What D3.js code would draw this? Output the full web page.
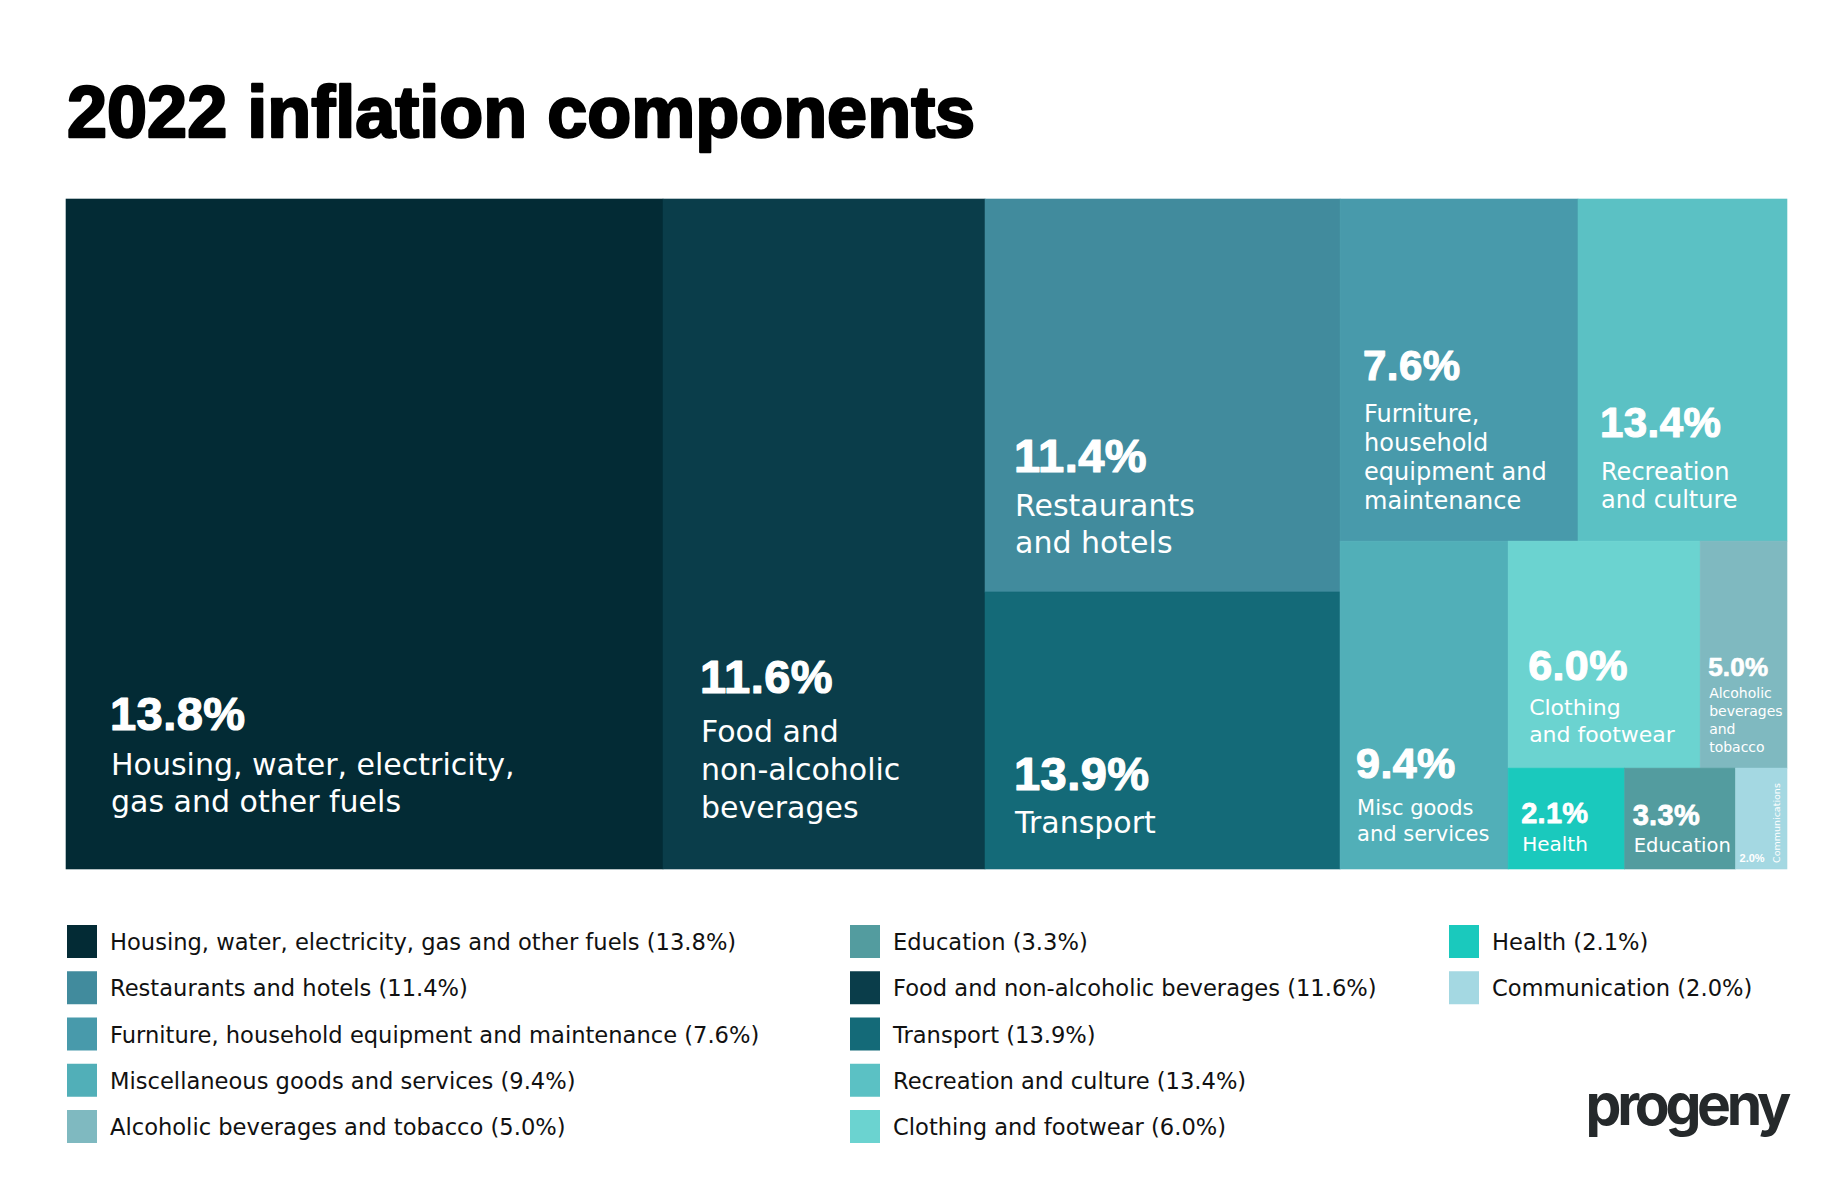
<!DOCTYPE html>
<html><head><meta charset="utf-8">
<script src="https://cdn.jsdelivr.net/npm/d3@7"></script>
<style>body{margin:0;background:#fff;} svg{display:block}</style>
</head><body><svg id="c" width="1847" height="1188"></svg>
<script>
// ---------- data ----------
const categories = ["Housing","Food","Restaurants","Transport","Furniture","Recreation","Misc","Clothing","Alcohol","Health","Education","Communication"];
const legendNames = ["Housing, water, electricity, gas and other fuels","Food and non-alcoholic beverages","Restaurants and hotels","Transport","Furniture, household equipment and maintenance","Recreation and culture","Miscellaneous goods and services","Clothing and footwear","Alcoholic beverages and tobacco","Health","Education","Communication"];
const cellLines = [["Housing, water, electricity,","gas and other fuels"],["Food and","non-alcoholic","beverages"],["Restaurants","and hotels"],["Transport"],["Furniture,","household","equipment and","maintenance"],["Recreation","and culture"],["Misc goods","and services"],["Clothing","and footwear"],["Alcoholic","beverages","and","tobacco"],["Health"],["Education"],["Communications"]];
const inflation = [13.8,11.6,11.4,13.9,7.6,13.4,9.4,6.0,5.0,2.1,3.3,2.0];
// basket weight (area of each tile, % of total)
const weights = [34.69,18.71,12.10,8.53,7.06,6.20,4.78,3.78,1.71,1.02,0.97,0.45];
const colors = ["#032b35","#0a3d4a","#418b9d","#146a78","#489aab","#5bc1c4","#51afb8","#6bd3d0","#7fb9c0","#1ac9bd","#539c9f","#a4d8e2"];
const groups = ["Housing","Food",["Restaurants","Transport"],[["Furniture","Recreation"],["Misc",[["Clothing","Alcohol"],["Health","Education","Communication"]]]]];
const legendColumns = [["Housing","Restaurants","Furniture","Misc","Alcohol"],["Education","Food","Transport","Recreation","Clothing"],["Health","Communication"]];
const titleText = "2022 inflation components";
const brandText = "progeny";

// ---------- label styles (layout only) ----------
const labelStyle = {
  Housing:{padL:45,padB:57,pct:47,lab:30,lh:37,gap:45},
  Food:{padL:38,padB:51,pct:47,lab:30,lh:38,gap:49},
  Restaurants:{padL:30,padB:39,pct:47,lab:30,lh:37,gap:44},
  Transport:{padL:30,padB:36,pct:47,lab:30,lh:37,gap:43},
  Furniture:{padL:24,padB:32,pct:42,lab:24,lh:29,gap:42},
  Recreation:{padL:23,padB:33,pct:42,lab:24,lh:28,gap:43},
  Misc:{padL:17,padB:28,pct:43,lab:21,lh:26,gap:37},
  Clothing:{padL:21,padB:26,pct:43,lab:22,lh:27,gap:35},
  Alcohol:{padL:9,padB:16,pct:26,lab:14,lh:18,gap:22},
  Health:{padL:14,padB:18,pct:29,lab:20,lh:24,gap:28},
  Education:{padL:9,padB:17,pct:29,lab:19.5,lh:24,gap:27}
};

const M = {left:66, top:199, width:1721, height:670};
const svg = d3.select("#c");
const pctFont = "'Liberation Sans', Arial, sans-serif";
const labFont = "'DejaVu Sans', sans-serif";

// title
svg.append("text").attr("x",67).attr("y",137)
  .attr("font-family",pctFont).attr("font-weight",700).attr("font-size",72)
  .attr("letter-spacing",0)
  .attr("fill","#000").attr("stroke","#000").attr("stroke-width",2.4).attr("stroke-linejoin","round")
  .text(titleText);

// treemap
function toNode(g){ return typeof g === "string" ? {name:g} : {children:g.map(toNode)}; }
const root = d3.hierarchy(toNode(groups)).sum(d => d.name ? weights[categories.indexOf(d.name)] : 0);
const tile = (node,x0,y0,x1,y1) => (node.depth % 2 === 0 ? d3.treemapDice : d3.treemapSlice)(node,x0,y0,x1,y1);
d3.treemap().size([M.width,M.height]).tile(tile).paddingInner(0).round(false)(root);

const g = svg.append("g").attr("transform",`translate(${M.left},${M.top})`);
const leaves = root.leaves();
const cell = g.selectAll("g.cell").data(leaves).join("g").attr("class","cell");
cell.append("rect")
  .attr("x",d=>d.x0).attr("y",d=>d.y0)
  .attr("width",d=>d.x1-d.x0).attr("height",d=>d.y1-d.y0)
  .attr("fill",d=>colors[categories.indexOf(d.data.name)])
  .attr("stroke",d=>colors[categories.indexOf(d.data.name)]).attr("stroke-width",0.6);

cell.each(function(d){
  const i = categories.indexOf(d.data.name);
  const sel = d3.select(this);
  const st = labelStyle[d.data.name];
  if(!st){
    sel.append("text").attr("x",d.x0+4).attr("y",d.y1-7)
      .attr("font-family",pctFont).attr("font-weight",700).attr("font-size",11)
      .attr("fill","#fff").text(inflation[i].toFixed(1)+"%");
    sel.append("text").attr("transform",`translate(${d.x1-7.5},${d.y1-6}) rotate(-90)`)
      .attr("font-family",labFont).attr("font-size",9.5).attr("fill","#fff")
      .text(cellLines[i][0]);
    return;
  }
  const lines = cellLines[i];
  const lastY = d.y1 - st.padB;
  const x = d.x0 + st.padL;
  lines.forEach((ln,k)=>{
    sel.append("text").attr("x",x).attr("y",lastY-(lines.length-1-k)*st.lh)
      .attr("font-family",labFont).attr("font-size",st.lab).attr("fill","#fff").text(ln);
  });
  sel.append("text").attr("x",x-1).attr("y",lastY-(lines.length-1)*st.lh-st.gap)
    .attr("font-family",pctFont).attr("font-weight",700).attr("font-size",st.pct)
    .attr("letter-spacing",st.pct*0.01)
    .attr("fill","#fff").attr("stroke","#fff").attr("stroke-width",st.pct/38).attr("stroke-linejoin","round")
    .text(inflation[i].toFixed(1)+"%");
});

// legend
const colX = [67,850,1449];
const rowTop = 925, rowStep = 46.25;
legendColumns.forEach((col,c)=>{
  col.forEach((name,r)=>{
    const i = categories.indexOf(name);
    const y = rowTop + r*rowStep;
    svg.append("rect").attr("x",colX[c]).attr("y",y).attr("width",30).attr("height",33).attr("fill",colors[i]);
    svg.append("text").attr("x",colX[c]+43).attr("y",y+25)
      .attr("font-family",labFont).attr("font-size",22.6).attr("fill","#111")
      .text(`${legendNames[i]} (${inflation[i].toFixed(1)}%)`);
  });
});

// brand
svg.append("text").attr("x",1787).attr("y",1125).attr("text-anchor","end")
  .attr("font-family","Inter, sans-serif").attr("font-weight",700).attr("font-size",57)
  .attr("letter-spacing",-4.3).attr("fill","#25292b").text(brandText);
</script></body></html>
